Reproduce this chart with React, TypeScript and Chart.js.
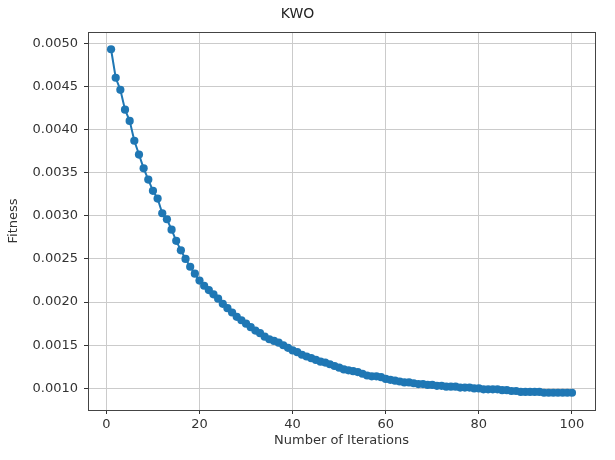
import React, { useEffect, useRef } from "react";
import { Chart, registerables } from "chart.js";

Chart.register(...registerables);

const iterations: number[] = Array.from({ length: 100 }, (_, i) => i + 1);

const fitness: number[] = [
  0.00493, 0.0046, 0.00446, 0.00423, 0.0041, 0.00387, 0.00371, 0.00355, 0.00342, 0.00329,
  0.0032, 0.00303, 0.00296, 0.00284, 0.00271, 0.0026, 0.0025, 0.00241, 0.00233, 0.00225,
  0.00219, 0.00214, 0.00209, 0.00204, 0.00198, 0.00193, 0.00188, 0.00183, 0.00179, 0.00175,
  0.00171, 0.00167, 0.00164, 0.0016, 0.00157, 0.00155, 0.00153, 0.0015, 0.00147, 0.00144,
  0.00142, 0.00139, 0.00137, 0.00135, 0.00133, 0.00131, 0.0013, 0.00128, 0.00126, 0.00124,
  0.00122, 0.00121, 0.0012, 0.00119, 0.00117, 0.00115, 0.00114, 0.00114, 0.00113, 0.00111,
  0.0011, 0.00109, 0.00108, 0.00107, 0.00107, 0.00106, 0.00105, 0.00105, 0.00104, 0.00104,
  0.00103, 0.00103, 0.00102, 0.00102, 0.00102, 0.00101, 0.00101, 0.00101, 0.001, 0.001,
  0.00099, 0.00099, 0.00099, 0.00099, 0.00098, 0.00098, 0.00097, 0.00097, 0.00096, 0.00096,
  0.00096, 0.00096, 0.00096, 0.00095, 0.00095, 0.00095, 0.00095, 0.00095, 0.00095, 0.00095,
];

const xTickValues: number[] = [0, 20, 40, 60, 80, 100];
const yTickValues: number[] = [0.001, 0.0015, 0.002, 0.0025, 0.003, 0.0035, 0.004, 0.0045, 0.005];

const titleText = "KWO";
const xLabel = "Number of Iterations";
const yLabel = "Fitness";

const FONT = "'DejaVu Sans', sans-serif";
const BLUE = "#1f77b4";

const frame = {
  id: "frame",
  afterDatasetsDraw(chart: any) {
    const { ctx, chartArea } = chart;
    ctx.save();
    ctx.strokeStyle = "#444";
    ctx.lineWidth = 1;
    ctx.strokeRect(
      Math.round(chartArea.left) + 0.5,
      Math.round(chartArea.top) + 0.5,
      Math.round(chartArea.right - chartArea.left),
      Math.round(chartArea.bottom - chartArea.top)
    );
    ctx.restore();
  },
};

export default function App() {
  const ref = useRef<HTMLCanvasElement | null>(null);

  useEffect(() => {
    if (!ref.current) return;
    const chart = new Chart(ref.current, {
      type: "line",
      data: {
        datasets: [
          {
            data: iterations.map((x, i) => ({ x, y: fitness[i] })),
            borderColor: BLUE,
            backgroundColor: BLUE,
            borderWidth: 2,
            pointRadius: 4.1,
            pointBorderWidth: 0,
            pointBackgroundColor: BLUE,
            tension: 0,
          },
        ],
      },
      options: {
        animation: false,
        responsive: false,
        layout: { padding: { left: 0, right: 20, top: 0, bottom: 0 } },
        plugins: {
          legend: { display: false },
          tooltip: { enabled: false },
          title: {
            display: true,
            text: titleText,
            color: "#222",
            font: { family: FONT, size: 14, weight: "normal" },
            padding: { top: 6, bottom: 9.2 },
          },
        },
        scales: {
          x: {
            type: "linear",
            min: -3.95,
            max: 104.95,
            afterBuildTicks: (scale: any) => {
              scale.ticks = xTickValues.map((v) => ({ value: v }));
            },
            afterFit: (scale: any) => {
              scale.height = 50;
            },
            ticks: {
              autoSkip: false,
              maxRotation: 0,
              color: "#333",
              padding: 3,
              font: { family: FONT, size: 13 },
              callback: (v: any) => String(v),
            },
            grid: { color: "#cbcbcb", lineWidth: 1, tickColor: "#333", tickLength: 4 },
            border: { display: false },
            title: {
              display: true,
              text: xLabel,
              color: "#333",
              font: { family: FONT, size: 13 },
              padding: { top: 0, bottom: 12 },
            },
          },
          y: {
            type: "linear",
            min: 0.00075,
            max: 0.00513,
            afterBuildTicks: (scale: any) => {
              scale.ticks = yTickValues.map((v) => ({ value: v }));
            },
            afterFit: (scale: any) => {
              scale.width = 88;
            },
            ticks: {
              autoSkip: false,
              color: "#333",
              padding: 6,
              font: { family: FONT, size: 13 },
              callback: (v: any) => Number(v).toFixed(4),
            },
            grid: { color: "#cbcbcb", lineWidth: 1, tickColor: "#333", tickLength: 4 },
            border: { display: false },
            title: {
              display: true,
              text: yLabel,
              color: "#333",
              font: { family: FONT, size: 13 },
              padding: { top: 6, bottom: 0 },
            },
          },
        },
      },
      plugins: [frame],
    });
    return () => chart.destroy();
  }, []);

  return (
    <div style={{ position: "fixed", left: 0, top: 0, width: 615, height: 460, background: "#fff" }}>
      <canvas ref={ref} width={615} height={460} />
    </div>
  );
}
